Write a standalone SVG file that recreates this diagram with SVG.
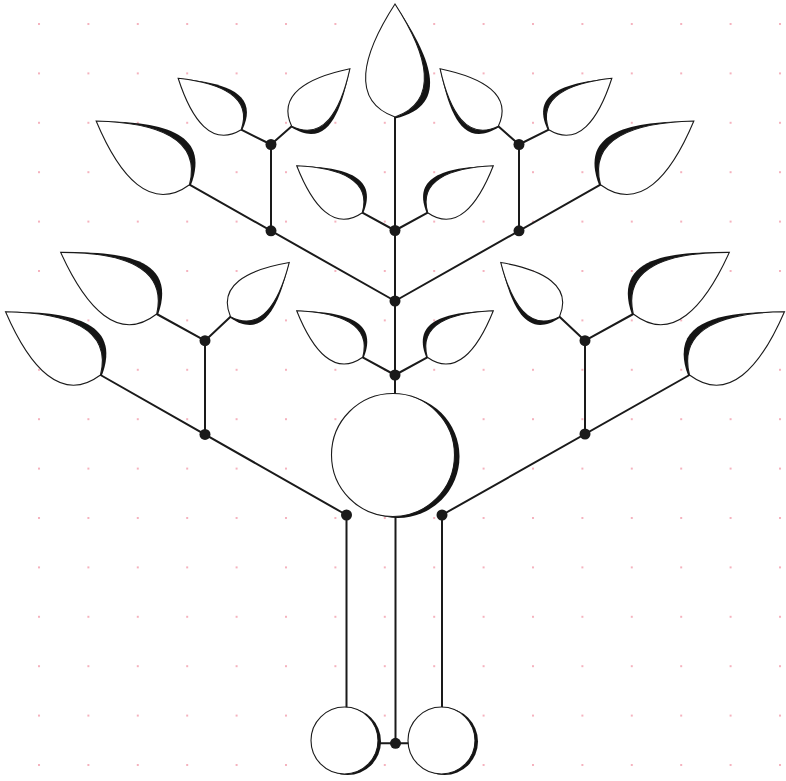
<svg xmlns="http://www.w3.org/2000/svg" xmlns:xlink="http://www.w3.org/1999/xlink" width="786" height="781" viewBox="0 0 786 781">
<style>
.wire{stroke:#1a1a1a;stroke-width:2;fill:none;stroke-linecap:round}
.dot{fill:#1a1a1a}
.shade{fill:#141414}
.body{fill:#fff;stroke:#1a1a1a;stroke-width:1.1}
</style>
<defs>
<pattern id="grid" x="38" y="23" width="49.4" height="49.4" patternUnits="userSpaceOnUse">
<rect x="0" y="0" width="2" height="2" fill="#f5b2be"/>
</pattern>
<g id="leaf">
<path class="shade" d="M0,-113 C34,-62 58,-12 0,1.5 Z"/>
<path class="body" vector-effect="non-scaling-stroke" d="M0,0 C-45,-16 -33,-62 0,-113 C33,-62 45,-16 0,0 Z"/>
</g>
</defs>
<rect width="786" height="781" fill="#fff"/>
<rect width="786" height="781" fill="url(#grid)"/>

<g id="connectors" class="wire">
<line x1="395" y1="117" x2="395" y2="400"/>
<line x1="395" y1="301" x2="189.5" y2="184.7"/>
<line x1="395" y1="301" x2="600.5" y2="184.7"/>
<line x1="271" y1="230.8" x2="271" y2="144.5"/>
<line x1="519" y1="230.8" x2="519" y2="144.5"/>
<line x1="271" y1="144.5" x2="241.2" y2="129.7"/>
<line x1="271" y1="144.5" x2="291.7" y2="126.3"/>
<line x1="519" y1="144.5" x2="548.8" y2="129.7"/>
<line x1="519" y1="144.5" x2="498.3" y2="126.3"/>
<line x1="395" y1="230.5" x2="362.3" y2="212.7"/>
<line x1="395" y1="230.5" x2="427.7" y2="212.7"/>
<line x1="395" y1="375" x2="362.7" y2="357.3"/>
<line x1="395" y1="375" x2="427.3" y2="357.3"/>
<line x1="346.5" y1="515" x2="100.5" y2="375"/>
<line x1="442" y1="515" x2="689.5" y2="375"/>
<line x1="205" y1="434.4" x2="205" y2="340.7"/>
<line x1="585" y1="434" x2="585" y2="340.7"/>
<line x1="205" y1="340.7" x2="156.7" y2="314"/>
<line x1="205" y1="340.7" x2="230.5" y2="316.7"/>
<line x1="585" y1="340.7" x2="633.3" y2="314"/>
<line x1="585" y1="340.7" x2="559.5" y2="316.7"/>
<line x1="346.5" y1="515" x2="346.5" y2="708"/>
<line x1="442" y1="515" x2="442" y2="708"/>
<line x1="395.5" y1="500" x2="395.5" y2="743.3"/>
<line x1="378" y1="743.3" x2="408" y2="743.3"/>
</g>

<g id="leaf-top"><use xlink:href="#leaf" href="#leaf" transform="translate(395,117)"/></g>
<g id="leaf-A"><use xlink:href="#leaf" href="#leaf" transform="translate(189.5,184.7) rotate(-55.7)"/></g>
<g id="leaf-B"><use xlink:href="#leaf" href="#leaf" transform="translate(241.2,129.7) rotate(-50.8) scale(0.72)"/></g>
<g id="leaf-C"><use xlink:href="#leaf" href="#leaf" transform="translate(291.7,126.3) rotate(45.3) scale(0.725)"/></g>
<g id="leaf-D"><use xlink:href="#leaf" href="#leaf" transform="translate(362.3,212.7) rotate(-54.4) scale(0.714)"/></g>
<g id="leaf-E"><use xlink:href="#leaf" href="#leaf" transform="translate(362.7,357.3) rotate(-54.8) scale(0.715)"/></g>
<g id="leaf-F"><use xlink:href="#leaf" href="#leaf" transform="translate(156.7,314) rotate(-57.3) scale(1.01)"/></g>
<g id="leaf-G"><use xlink:href="#leaf" href="#leaf" transform="translate(230.5,316.7) rotate(47.3) scale(0.707)"/></g>
<g id="leaf-H"><use xlink:href="#leaf" href="#leaf" transform="translate(100.5,375) rotate(-56.3) scale(1.01)"/></g>
<g id="leaf-A2"><use xlink:href="#leaf" href="#leaf" transform="translate(600.5,184.7) rotate(55.7) scale(-1,1)"/></g>
<g id="leaf-B2"><use xlink:href="#leaf" href="#leaf" transform="translate(548.8,129.7) rotate(50.8) scale(-0.72,0.72)"/></g>
<g id="leaf-C2"><use xlink:href="#leaf" href="#leaf" transform="translate(498.3,126.3) rotate(-45.3) scale(-0.725,0.725)"/></g>
<g id="leaf-D2"><use xlink:href="#leaf" href="#leaf" transform="translate(427.7,212.7) rotate(54.4) scale(-0.714,0.714)"/></g>
<g id="leaf-E2"><use xlink:href="#leaf" href="#leaf" transform="translate(427.3,357.3) rotate(54.8) scale(-0.715,0.715)"/></g>
<g id="leaf-F2"><use xlink:href="#leaf" href="#leaf" transform="translate(633.3,314) rotate(57.3) scale(-1.01,1.01)"/></g>
<g id="leaf-G2"><use xlink:href="#leaf" href="#leaf" transform="translate(559.5,316.7) rotate(-47.3) scale(-0.707,0.707)"/></g>
<g id="leaf-H2"><use xlink:href="#leaf" href="#leaf" transform="translate(689.5,375) rotate(56.3) scale(-1.01,1.01)"/></g>

<g id="trunk-circle">
<circle class="shade" cx="398" cy="456.5" r="61.5"/>
<circle class="body" cx="393" cy="455" r="61.5"/>
</g>
<g id="root-left">
<circle class="shade" cx="347.5" cy="741.5" r="33.5"/>
<circle class="body" cx="344.5" cy="740.5" r="33.5"/>
</g>
<g id="root-right">
<circle class="shade" cx="444.5" cy="741.5" r="33.5"/>
<circle class="body" cx="441.5" cy="740.5" r="33.5"/>
</g>

<g id="junctions" class="dot">
<circle cx="395" cy="230.5" r="5.5"/>
<circle cx="395" cy="301" r="5.5"/>
<circle cx="395" cy="375" r="5.5"/>
<circle cx="271" cy="230.8" r="5.5"/>
<circle cx="271" cy="144.5" r="5.5"/>
<circle cx="519" cy="230.8" r="5.5"/>
<circle cx="519" cy="144.5" r="5.5"/>
<circle cx="205" cy="340.7" r="5.5"/>
<circle cx="205" cy="434.4" r="5.5"/>
<circle cx="585" cy="340.7" r="5.5"/>
<circle cx="585" cy="434" r="5.5"/>
<circle cx="346.5" cy="515" r="5.5"/>
<circle cx="442" cy="515" r="5.5"/>
<circle cx="395.5" cy="743.3" r="5.5"/>
</g>
</svg>
